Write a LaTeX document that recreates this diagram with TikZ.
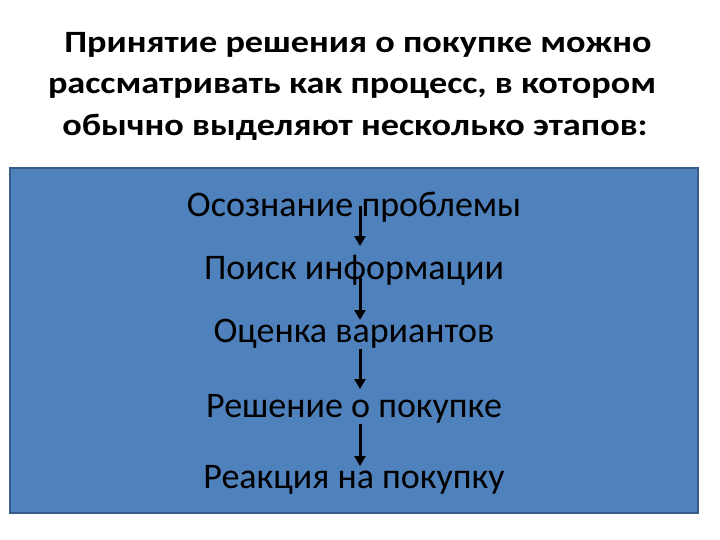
\documentclass[tikz,border=0pt]{standalone}
\usepackage{fontspec}
\setmainfont{Carlito}
\newfontfamily\widetitlefont[FakeStretch=1.17]{Carlito}
\usetikzlibrary{arrows.meta}
\definecolor{boxblue}{HTML}{4F81BD}
\definecolor{boxedge}{HTML}{385D8A}
\begin{document}
\begin{tikzpicture}[x=1pt,y=-1pt,
  titletext/.style={font=\widetitlefont\bfseries\fontsize{31}{40}\selectfont, align=center, inner sep=0pt, anchor=base},
  stagetext/.style={font=\fontsize{36}{40}\selectfont, text=black, inner sep=0pt, anchor=base},
  flowarrow/.style={line width=3pt, -{Triangle[length=10pt,width=11pt]}}]
\useasboundingbox (0,0) rectangle (720,540);
\node[titletext] (t1) at (358,53) {Принятие решения о покупке можно};
\node[titletext] (t2) at (352,94) {рассматривать как процесс, в котором};
\node[titletext] (t3) at (355,136) {обычно выделяют несколько этапов:};
\draw[fill=boxblue, draw=boxedge, line width=2pt] (10,168) rectangle (698,513);
\node[stagetext] (s1) at (354,216) {Осознание проблемы};
\node[stagetext] (s2) at (354,279) {Поиск информации};
\node[stagetext] (s3) at (354,342) {Оценка вариантов};
\node[stagetext] (s4) at (354,417) {Решение о покупке};
\node[stagetext] (s5) at (354,488) {Реакция на покупку};
\coordinate (a1s) at (360,206); \coordinate (a1e) at (360,246);
\coordinate (a2s) at (360,278); \coordinate (a2e) at (360,320);
\coordinate (a3s) at (360,349); \coordinate (a3e) at (360,389);
\coordinate (a4s) at (360,424); \coordinate (a4e) at (360,466);
\draw[flowarrow] (a1s) -- (a1e);
\draw[flowarrow] (a2s) -- (a2e);
\draw[flowarrow] (a3s) -- (a3e);
\draw[flowarrow] (a4s) -- (a4e);
\end{tikzpicture}
\end{document}
